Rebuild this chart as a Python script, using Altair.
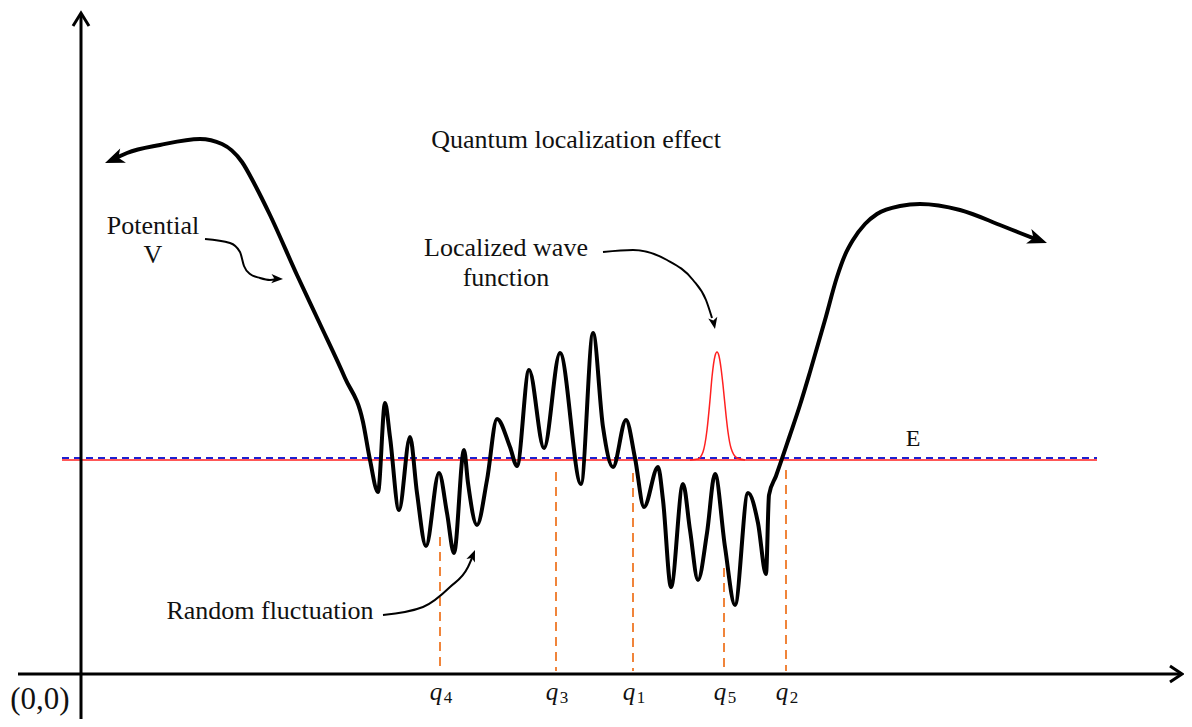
import altair as alt
import pandas as pd

# ---- data (image pixel coordinates) ----
pot_x = [112, 127, 160, 200, 222, 242, 255, 270, 297, 320, 345, 363, 370, 378, 385, 390, 399, 410, 417,
         426, 439, 447, 454, 464, 468, 477, 487, 497, 510, 517, 529, 544, 560, 581, 593, 603, 613, 626, 635,
         644, 658, 663, 671, 683, 690, 698, 707, 715, 725, 735, 748, 758, 766, 769, 776, 790, 800, 810, 825, 837,
         845, 853, 865, 877, 900, 920, 960, 1000, 1020, 1038]
pot_y = [160, 153, 145, 139, 144, 162, 185, 215, 275, 324, 378, 422, 460, 492, 403, 437, 510, 437, 493,
         546, 473, 513, 553, 450, 483, 525, 480, 419, 447, 466, 370, 448, 353, 484, 333, 427, 467, 420, 458,
         507, 467, 500, 587, 484, 530, 580, 533, 474, 547, 605, 493, 523, 574, 495, 476, 435, 405, 372, 320, 277,
         255, 240, 224, 214, 206, 204, 210, 225, 233, 240]

gauss_x = [690, 698, 703, 707, 710, 712, 715, 717, 719, 721, 723, 726, 728, 731, 737, 745]
gauss_y = [460, 459, 452, 430, 400, 377, 356, 352, 356, 368, 385, 415, 432, 448, 458, 460]

energy_x0, energy_x1 = 62, 1097
energy_red_y = 460
energy_blue_y = 458

q_digits = ["4", "3", "1", "5", "2"]
q_x = [440, 556, 633, 724, 786]
q_top = [537, 472, 473, 568, 470]
q_bottom = [671, 671, 671, 671, 671]

arrow_pot_x = [205, 230, 240, 244, 250, 260, 270, 276]
arrow_pot_y = [239, 243, 252, 266, 274, 278, 280, 279]
arrow_loc_x = [603, 633, 667, 693, 706, 712]
arrow_loc_y = [252, 250, 260, 280, 300, 318]
arrow_rand_x = [383, 423, 450, 468, 472]
arrow_rand_y = [615, 607, 587, 567, 558]

head_x = [105, 1047, 283, 715, 475]
head_y = [163, 243, 279, 329, 550]
head_angle = [248, 110, 92, 169, 22]
head_size = [420, 420, 150, 150, 150]

axis_x0, axis_x1, axis_row = 18, 1182, 674
yaxis_col, yaxis_top, yaxis_bottom = 81, 14, 727

chev_x = [73, 81, 89, 1170, 1182, 1170]
chev_y = [26, 13, 26, 666, 674, 682]
chev_id = ["y", "y", "y", "x", "x", "x"]

label_text = ["Quantum localization effect", "Potential", "V", "Localized wave", "function",
              "E", "Random fluctuation", "(0,0)"]
label_x = [576, 153, 153, 506, 506, 913, 270, 40]
label_y = [140, 226, 255, 248, 278, 439, 611, 700]
label_size = [26, 26, 26, 26, 26, 24, 26, 31]

# ---- scales: 1 data unit = 1 pixel of the reference ----
W, H = 1176, 711
xs = alt.Scale(domain=[8, 8 + W], nice=False, zero=False)
ys = alt.Scale(domain=[8 + H, 8], nice=False, zero=False)


def X(f="x"):
    return alt.X(f"{f}:Q", scale=xs, axis=None)


def Y(f="y"):
    return alt.Y(f"{f}:Q", scale=ys, axis=None)


FONT = "Liberation Serif"

pot = alt.Chart(pd.DataFrame({"x": pot_x, "y": pot_y})).mark_line(
    color="black", strokeWidth=4, interpolate="monotone", strokeCap="round", strokeJoin="round"
).encode(x=X(), y=Y())

energy_red = alt.Chart(pd.DataFrame({"x": [energy_x0], "x2": [energy_x1], "y": [energy_red_y]})).mark_rule(
    color="#ff2020", strokeWidth=1.6
).encode(x=X(), x2="x2", y=Y())
energy_blue = alt.Chart(pd.DataFrame({"x": [energy_x0], "x2": [energy_x1], "y": [energy_blue_y]})).mark_rule(
    color="#2020d0", strokeWidth=2, strokeDash=[7, 5]
).encode(x=X(), x2="x2", y=Y())

gauss = alt.Chart(pd.DataFrame({"x": gauss_x, "y": gauss_y})).mark_line(
    color="#ff2020", strokeWidth=1.5, interpolate="monotone"
).encode(x=X(), y=Y())

qlines = alt.Chart(pd.DataFrame({"x": q_x, "y": q_top, "y2": q_bottom})).mark_rule(
    color="#f0843a", strokeWidth=2, strokeDash=[9, 6]
).encode(x=X(), y=Y(), y2="y2")

arrows_df = pd.concat([
    pd.DataFrame({"x": arrow_pot_x, "y": arrow_pot_y, "id": "pot"}),
    pd.DataFrame({"x": arrow_loc_x, "y": arrow_loc_y, "id": "loc"}),
    pd.DataFrame({"x": arrow_rand_x, "y": arrow_rand_y, "id": "rand"}),
])
arrows = alt.Chart(arrows_df).mark_line(
    color="black", strokeWidth=2, interpolate="monotone"
).encode(x=X(), y=Y(), detail="id:N")

heads = alt.Chart(pd.DataFrame({"x": head_x, "y": head_y, "a": head_angle, "s": head_size})).mark_point(
    shape="M0,0L0.75,1.9L0,1.4L-0.75,1.9Z", filled=True, color="black", opacity=1, strokeWidth=0
).encode(x=X(), y=Y(), angle=alt.Angle("a:Q", scale=None), size=alt.Size("s:Q", scale=None))

xaxis = alt.Chart(pd.DataFrame({"x": [axis_x0], "x2": [axis_x1], "y": [axis_row]})).mark_rule(
    color="black", strokeWidth=3
).encode(x=X(), x2="x2", y=Y())
yaxis = alt.Chart(pd.DataFrame({"x": [yaxis_col], "y": [yaxis_top], "y2": [yaxis_bottom]})).mark_rule(
    color="black", strokeWidth=3
).encode(x=X(), y=Y(), y2="y2")
chevrons = alt.Chart(pd.DataFrame({"x": chev_x, "y": chev_y, "id": chev_id,
                                   "i": list(range(len(chev_x)))})).mark_line(
    color="black", strokeWidth=3
).encode(x=X(), y=Y(), detail="id:N", order="i:Q")

labels = alt.Chart(pd.DataFrame({"x": label_x, "y": label_y, "t": label_text, "s": label_size})).mark_text(
    font=FONT, color="#111", align="center", baseline="middle"
).encode(x=X(), y=Y(), text="t:N", size=alt.Size("s:Q", scale=None))

q_df = pd.DataFrame({"x": q_x, "y": [692] * len(q_x), "d": q_digits, "q": ["q"] * len(q_x)})
q_letters = alt.Chart(q_df).mark_text(
    font=FONT, fontStyle="italic", fontSize=25, color="#111", align="center", baseline="middle", dx=-4
).encode(x=X(), y=Y(), text="q:N")
q_subs = alt.Chart(q_df).mark_text(
    font=FONT, fontSize=17, color="#111", align="center", baseline="middle", dx=8, dy=6
).encode(x=X(), y=Y(), text="d:N")

chart = alt.layer(
    energy_red, energy_blue, qlines, gauss, pot, arrows, heads, xaxis, yaxis, chevrons,
    labels, q_letters, q_subs
).properties(
    width=W, height=H, padding=0, autosize=alt.AutoSizeParams(type="none"), background="white"
).configure_view(stroke=None)

chart.save("out.html", embed_options={"renderer": "svg", "actions": False})
